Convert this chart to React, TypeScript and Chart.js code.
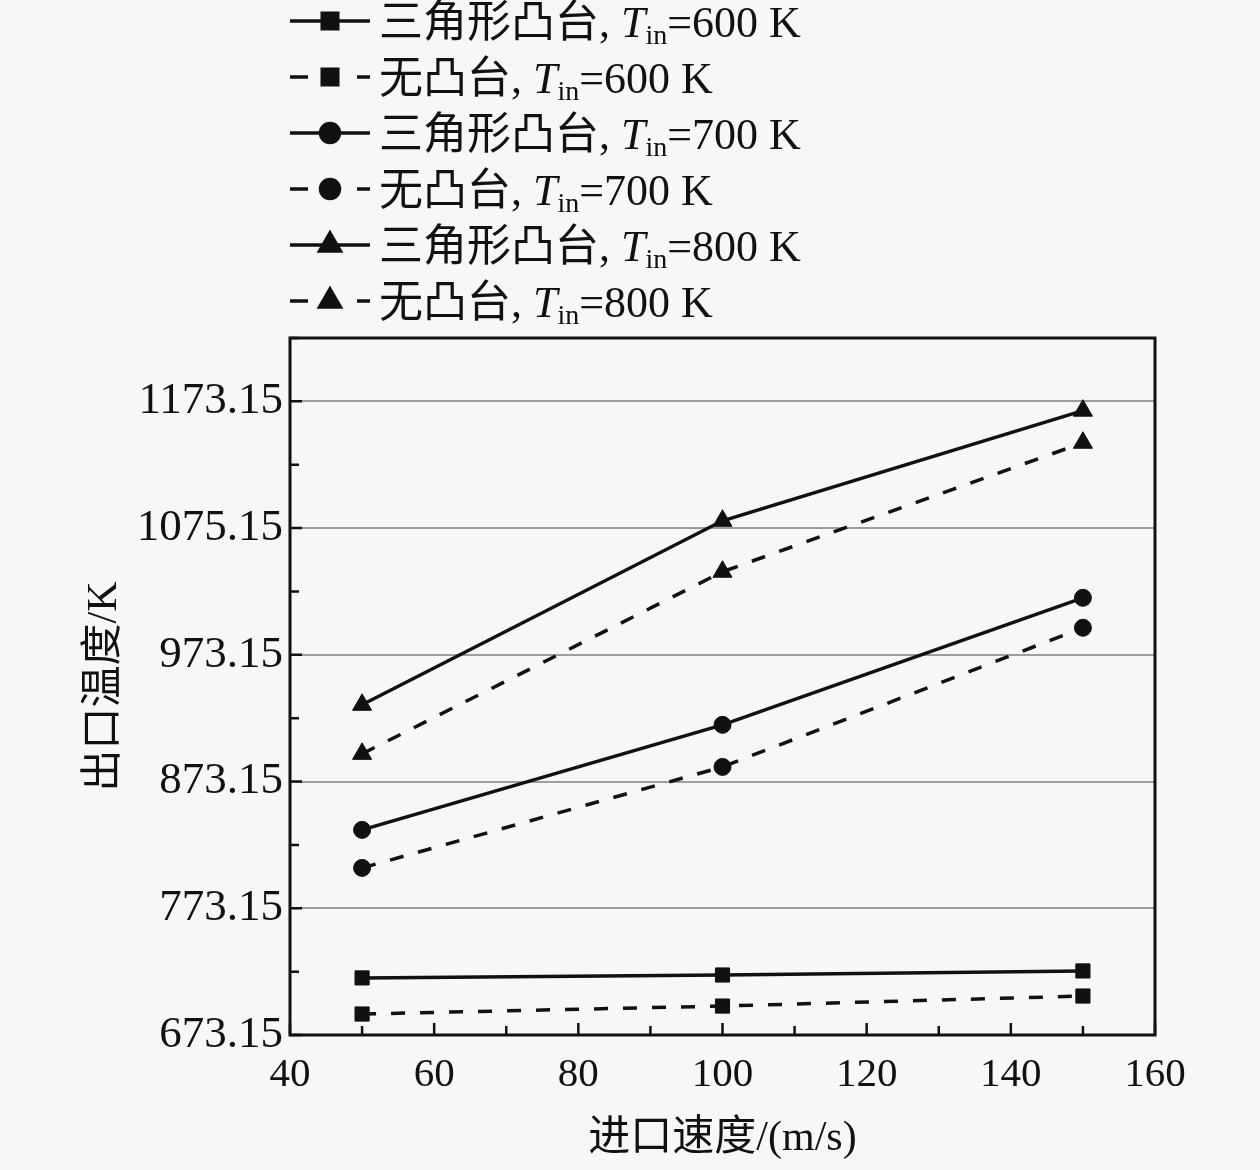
import React, { useEffect, useRef } from 'react';
import { Chart, registerables, Plugin } from 'chart.js';
import { drawPoint } from 'chart.js/helpers';

Chart.register(...registerables);

// inlet velocity (m/s)
const speeds = [50, 100, 150];
// outlet temperature (K)
const bossT600 = [718.2, 720.5, 723.7];
const flatT600 = [689.7, 696.0, 703.9];
const bossT700 = [835.0, 917.9, 1018.1];
const flatT700 = [805.0, 884.7, 994.5];
const bossT800 = [933.7, 1078.9, 1165.8];
const flatT800 = [895.0, 1038.7, 1140.5];

const caseNames = ['三角形凸台', '无凸台'];
const inletTemps = ['600', '700', '800'];

const yTickValues = [673.15, 723.15, 773.15, 823.15, 873.15, 923.15, 973.15, 1023.15, 1073.15, 1123.15, 1173.15, 1223.15];
const yTickLabels = ['673.15', '', '773.15', '', '873.15', '', '973.15', '', '1075.15', '', '1173.15', ''];
const xTitle = '进口速度/(m/s)';
const yTitle = '出口温度/K';

const serif = "'Liberation Serif', 'Times New Roman', 'Noto Sans CJK SC', serif";
const ink = '#111';
const pageBg = '#f7f7f7';

const series = [
  { values: bossT600, caseName: caseNames[0], temp: inletTemps[0], pointStyle: 'rect', pointRadius: 10, dashed: false },
  { values: flatT600, caseName: caseNames[1], temp: inletTemps[0], pointStyle: 'rect', pointRadius: 10, dashed: true },
  { values: bossT700, caseName: caseNames[0], temp: inletTemps[1], pointStyle: 'circle', pointRadius: 8.5, dashed: false },
  { values: flatT700, caseName: caseNames[1], temp: inletTemps[1], pointStyle: 'circle', pointRadius: 8.5, dashed: true },
  { values: bossT800, caseName: caseNames[0], temp: inletTemps[2], pointStyle: 'triangle', pointRadius: 11, dashed: false },
  { values: flatT800, caseName: caseNames[1], temp: inletTemps[2], pointStyle: 'triangle', pointRadius: 11, dashed: true },
];

const frame: Plugin = {
  id: 'frame',
  beforeDraw(chart) {
    const { ctx, width, height } = chart;
    ctx.save();
    ctx.fillStyle = pageBg;
    ctx.fillRect(0, 0, width, height);
    ctx.restore();
  },
  afterDatasetsDraw(chart) {
    const { ctx, chartArea: a, scales } = chart;
    ctx.save();
    ctx.strokeStyle = ink;
    ctx.lineWidth = 2.5;
    ctx.beginPath();
    scales.y.ticks.forEach((t, i) => {
      const py = scales.y.getPixelForValue(t.value);
      const len = yTickLabels[i] ? 12 : 9;
      ctx.moveTo(a.left, py);
      ctx.lineTo(a.left + len, py);
    });
    scales.x.ticks.forEach((t) => {
      const px = scales.x.getPixelForValue(t.value);
      const len = t.value % 20 === 0 ? 12 : 9;
      ctx.moveTo(px, a.bottom);
      ctx.lineTo(px, a.bottom - len);
    });
    ctx.stroke();
    ctx.lineWidth = 3;
    ctx.strokeRect(a.left, a.top, a.right - a.left, a.bottom - a.top);
    ctx.restore();
  },
};

const richLegend: Plugin = {
  id: 'richLegend',
  afterDraw(chart) {
    const ctx = chart.ctx;
    chart.data.datasets.forEach((ds: any, i) => {
      const y = 21 + i * 56;
      ctx.save();
      ctx.strokeStyle = ink;
      ctx.fillStyle = ink;
      ctx.lineWidth = 3.5;
      ctx.beginPath();
      if (ds.borderDash && ds.borderDash.length) {
        ctx.moveTo(290, y);
        ctx.lineTo(308, y);
        ctx.moveTo(357, y);
        ctx.lineTo(370, y);
      } else {
        ctx.moveTo(290, y);
        ctx.lineTo(370, y);
      }
      ctx.stroke();
      drawPoint(ctx, { pointStyle: ds.pointStyle, radius: ds.pointRadius + 1, rotation: 0, borderWidth: 1 }, 330, y);

      const ty = y + 4;
      ctx.textBaseline = 'middle';
      ctx.textAlign = 'left';
      let x = 379;
      ctx.font = `44px ${serif}`;
      const head = `${ds.caseName}, `;
      ctx.fillText(head, x, ty);
      x += ctx.measureText(head).width;
      ctx.font = `italic 44px ${serif}`;
      ctx.fillText('T', x, ty);
      x += ctx.measureText('T').width;
      ctx.font = `28px ${serif}`;
      ctx.fillText('in', x, ty + 12);
      x += ctx.measureText('in').width;
      ctx.font = `44px ${serif}`;
      ctx.fillText(`=${ds.temp} K`, x, ty);
      ctx.restore();
    });
  },
};

export default function App() {
  const canvasRef = useRef<HTMLCanvasElement | null>(null);

  useEffect(() => {
    document.body.style.margin = '0';
    document.body.style.background = pageBg;
    if (!canvasRef.current) return;

    const datasets = series.map((s) => ({
      label: `${s.caseName}, Tin=${s.temp} K`,
      caseName: s.caseName,
      temp: s.temp,
      data: speeds.map((v, i) => ({ x: v, y: s.values[i] })),
      borderColor: ink,
      backgroundColor: ink,
      borderWidth: 3.5,
      borderDash: s.dashed ? [14, 15] : [],
      pointStyle: s.pointStyle,
      pointRadius: s.pointRadius,
      pointBorderWidth: 1,
      pointBackgroundColor: ink,
      pointBorderColor: ink,
      tension: 0,
    }));

    const chart = new Chart(canvasRef.current, {
      type: 'line',
      data: { datasets } as any,
      plugins: [frame, richLegend],
      options: {
        responsive: false,
        animation: false,
        events: [],
        layout: { padding: { left: 0, right: 105, top: 338, bottom: 0 } },
        plugins: { legend: { display: false }, tooltip: { enabled: false } },
        scales: {
          x: {
            type: 'linear',
            min: 40,
            max: 160,
            afterFit: (s: any) => { s.height = 135; },
            ticks: {
              stepSize: 10,
              autoSkip: false,
              maxRotation: 0,
              padding: 16,
              color: ink,
              font: { family: serif, size: 41 },
              callback: (v: any) => (Number(v) % 20 === 0 ? String(v) : ''),
            },
            grid: { display: false, drawTicks: false },
            border: { display: false },
            title: {
              display: true,
              text: xTitle,
              color: ink,
              font: { family: serif, size: 42 },
              padding: { top: 0, bottom: 6 },
            },
          },
          y: {
            type: 'linear',
            min: yTickValues[0],
            max: yTickValues[yTickValues.length - 1],
            afterFit: (s: any) => { s.width = 290; },
            afterBuildTicks: (s: any) => { s.ticks = yTickValues.map((v) => ({ value: v })); },
            ticks: {
              autoSkip: false,
              padding: 7,
              color: ink,
              font: { family: serif, size: 45 },
              callback: (_v: any, i: number) => yTickLabels[i],
            },
            grid: {
              drawTicks: false,
              lineWidth: 2,
              color: (c: any) => (yTickLabels[c.index] ? '#9d9d9d' : 'rgba(0,0,0,0)'),
            },
            border: { display: false },
            title: {
              display: true,
              text: yTitle,
              color: ink,
              font: { family: serif, size: 42 },
              padding: { top: 80, bottom: 0 },
            },
          },
        },
      } as any,
    });

    return () => {
      chart.destroy();
    };
  }, []);

  return (
    <div style={{ width: 1260, height: 1170 }}>
      <canvas ref={canvasRef} width={1260} height={1170} style={{ display: 'block' }} />
    </div>
  );
}
